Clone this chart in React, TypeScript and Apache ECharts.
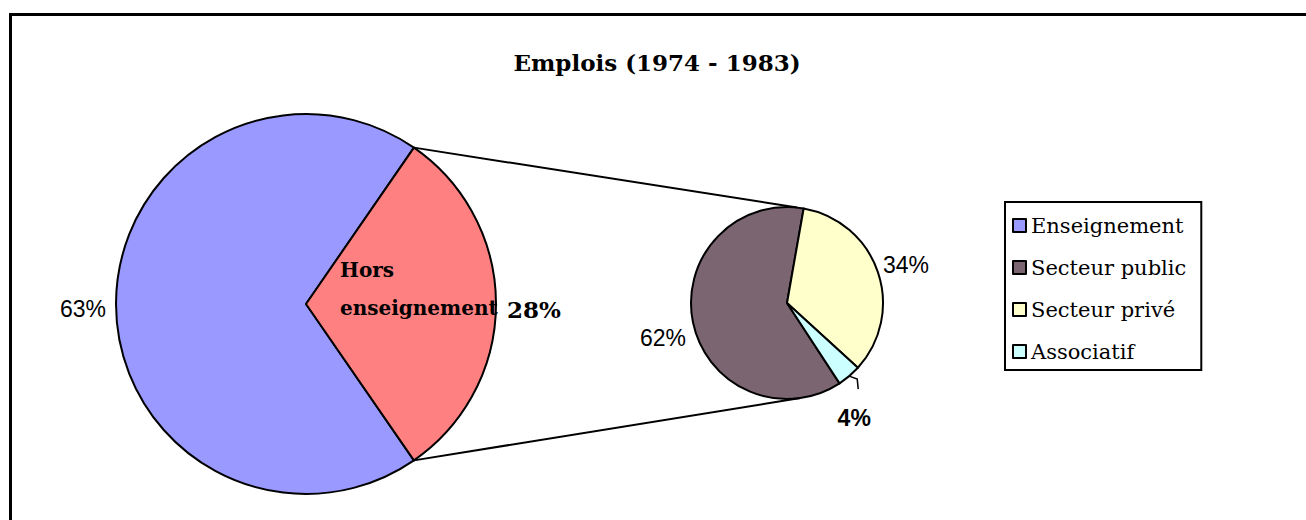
import React, { useEffect, useRef } from "react";
import * as echarts from "echarts";

const TITLE = "Emplois (1974 - 1983)";
const mainNames = ["Enseignement", "Hors enseignement"];
const mainValues = [63, 28];
const subNames = ["Secteur public", "Secteur privé", "Associatif"];
const subValues = [62, 34, 4];
const legendNames = ["Enseignement", "Secteur public", "Secteur privé", "Associatif"];
const mainColors = ["#9999FF", "#FF8080"];
const subColors = ["#7A6570", "#FFFFCC", "#CCFFFF"];

const SERIF = "'DejaVu Serif', 'Liberation Serif', serif";
const SANS = "'Liberation Sans', Arial, sans-serif";

export default function App() {
  const ref = useRef<HTMLDivElement>(null);
  useEffect(() => {
    if (!ref.current) return;
    const chart = echarts.init(ref.current, null, { renderer: "svg" });

    const bigC = [306, 304];
    const bigR = 190;
    const smC = [787, 303];
    const smR = 96;

    const mainTotal = mainValues.reduce((a, b) => a + b, 0);
    const redSpan = (mainValues[1] / mainTotal) * 360;
    const bigStart = redSpan / 2 + (mainValues[0] / mainTotal) * 360;

    const subTotal = subValues.reduce((a, b) => a + b, 0);
    const priveStart = 80;
    const smallStart = priveStart + (subValues[0] / subTotal) * 360;
    const priveEnd = priveStart - (subValues[1] / subTotal) * 360;
    const assocMid = priveEnd - ((subValues[2] / subTotal) * 360) / 2;

    const pt = (c: number[], r: number, deg: number) => {
      const a = (deg * Math.PI) / 180;
      return [c[0] + r * Math.cos(a), c[1] - r * Math.sin(a)];
    };

    const bigTop = pt(bigC, bigR, redSpan / 2);
    const bigBot = pt(bigC, bigR, -redSpan / 2);
    const smTop = pt(smC, smR, 84);
    const smBot = pt(smC, smR, -82);

    const ae = pt(smC, smR, assocMid);
    const lead = [ae, [ae[0] + 8, ae[1] + 3], [ae[0] + 9, ae[1] + 13]];

    const pctStyle = { fontFamily: SANS, fontSize: 23, fill: "#000" };

    chart.setOption({
      animation: false,
      legend: {
        orient: "vertical",
        left: 1005,
        top: 202,
        data: legendNames,
        icon: "rect",
        itemWidth: 13,
        itemHeight: 13,
        itemGap: 21,
        selectedMode: false,
        borderColor: "#000",
        borderWidth: 2,
        borderRadius: 0,
        padding: [13, 15, 8, 7],
        textStyle: { fontFamily: SERIF, fontSize: 21, color: "#000", lineHeight: 20 },
      },
      series: [
        {
          type: "pie",
          center: bigC,
          radius: bigR,
          startAngle: bigStart,
          silent: true,
          label: { show: false },
          labelLine: { show: false },
          itemStyle: { borderColor: "#000", borderWidth: 2 },
          data: mainNames.map((n, i) => ({
            name: n,
            value: mainValues[i],
            itemStyle: { color: mainColors[i] },
          })),
        },
        {
          type: "pie",
          center: smC,
          radius: smR,
          startAngle: smallStart,
          silent: true,
          label: { show: false },
          labelLine: { show: false },
          itemStyle: { borderColor: "#000", borderWidth: 2 },
          data: subNames.map((n, i) => ({
            name: n,
            value: subValues[i],
            itemStyle: { color: subColors[i] },
          })),
        },
      ],
      graphic: {
        elements: [
          {
            type: "rect",
            z: 100,
            shape: { x: 10.5, y: 14.5, width: 1500, height: 700 },
            style: { fill: "none", stroke: "#000", lineWidth: 3 },
            silent: true,
          },
          {
            type: "text",
            z: 100,
            x: 657,
            y: 62,
            style: {
              text: TITLE,
              fontFamily: SERIF,
              fontWeight: "bold",
              fontSize: 23,
              fill: "#000",
              textAlign: "center",
              textVerticalAlign: "middle",
            },
          },
          {
            type: "line",
            z: 100,
            shape: { x1: bigTop[0], y1: bigTop[1], x2: smTop[0], y2: smTop[1] },
            style: { stroke: "#000", lineWidth: 2 },
          },
          {
            type: "line",
            z: 100,
            shape: { x1: bigBot[0], y1: bigBot[1], x2: smBot[0], y2: smBot[1] },
            style: { stroke: "#000", lineWidth: 2 },
          },
          {
            type: "polyline",
            z: 100,
            shape: { points: lead },
            style: { stroke: "#000", lineWidth: 1.5, fill: "none" },
          },
          {
            type: "text",
            z: 100,
            x: bigC[0] - bigR - 10,
            y: 309,
            style: { ...pctStyle, text: mainValues[0] + "%", textAlign: "right", textVerticalAlign: "middle" },
          },
          {
            type: "text",
            z: 100,
            x: 340,
            y: 289,
            style: {
              text: "Hors\nenseignement",
              fontFamily: SERIF,
              fontWeight: "bold",
              fontSize: 20,
              lineHeight: 38,
              fill: "#000",
              textAlign: "left",
              textVerticalAlign: "middle",
            },
          },
          {
            type: "text",
            z: 100,
            x: 507,
            y: 309,
            style: {
              text: mainValues[1] + "%",
              fontFamily: SERIF,
              fontWeight: "bold",
              fontSize: 23,
              fill: "#000",
              textAlign: "left",
              textVerticalAlign: "middle",
            },
          },
          {
            type: "text",
            z: 100,
            x: smC[0] - smR - 5,
            y: 338,
            style: { ...pctStyle, text: subValues[0] + "%", textAlign: "right", textVerticalAlign: "middle" },
          },
          {
            type: "text",
            z: 100,
            x: smC[0] + smR,
            y: 265,
            style: { ...pctStyle, text: subValues[1] + "%", textAlign: "left", textVerticalAlign: "middle" },
          },
          {
            type: "text",
            z: 100,
            x: lead[2][0] - 4,
            y: 418,
            style: {
              ...pctStyle,
              fontWeight: "bold",
              text: subValues[2] + "%",
              textAlign: "center",
              textVerticalAlign: "middle",
            },
          },
        ],
      },
    });
    return () => chart.dispose();
  }, []);
  return (
    <div
      ref={ref}
      style={{ position: "fixed", left: 0, top: 0, width: 1306, height: 520, background: "#fff" }}
    />
  );
}
